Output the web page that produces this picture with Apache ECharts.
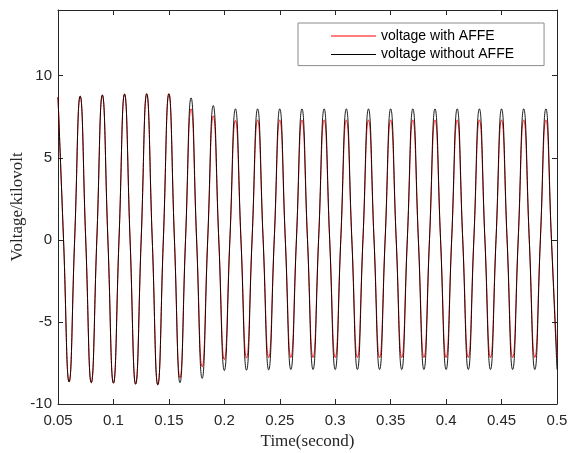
<!DOCTYPE html>
<html>
<head>
<meta charset="utf-8">
<script src="https://cdn.jsdelivr.net/npm/echarts@6/dist/echarts.min.js"></script>
<style>
html,body{margin:0;padding:0;background:#fff;}
#chart{width:570px;height:453px;}
</style>
</head>
<body>
<div id="chart"></div>
<script>
// Time samples (s): peaks, zero crossings and troughs
const time = [0.05,0.055,0.06,0.065,0.07,0.075,0.08,0.085,0.09,0.095,
  0.1,0.105,0.11,0.115,0.12,0.125,0.13,0.135,0.14,0.145,
  0.15,0.155,0.16,0.165,0.17,0.175,0.18,0.185,0.19,0.195,
  0.2,0.205,0.21,0.215,0.22,0.225,0.23,0.235,0.24,0.245,
  0.25,0.255,0.26,0.265,0.27,0.275,0.28,0.285,0.29,0.295,
  0.3,0.305,0.31,0.315,0.32,0.325,0.33,0.335,0.34,0.345,
  0.35,0.355,0.36,0.365,0.37,0.375,0.38,0.385,0.39,0.395,
  0.4,0.405,0.41,0.415,0.42,0.425,0.43,0.435,0.44,0.445,
  0.45,0.455,0.46,0.465,0.47,0.475,0.48,0.485,0.49,0.495,0.5];

// voltage without AFFE (kV)
const voltageWithout = [8.70,0,-8.65,0,8.75,0,-8.70,0,8.82,0,
  -8.73,0,8.88,0,-8.79,0,8.90,0,-8.83,0,
  8.90,0,-8.70,0,8.65,0,-8.44,0,8.18,0,
  -7.96,0,7.98,0,-7.94,0,7.98,0,-7.92,0,
  7.98,0,-7.90,0,7.98,0,-7.90,0,7.98,0,
  -7.90,0,7.98,0,-7.90,0,7.98,0,-7.90,0,
  7.98,0,-7.90,0,7.98,0,-7.90,0,7.98,0,
  -7.90,0,7.98,0,-7.90,0,7.98,0,-7.90,0,
  7.98,0,-7.90,0,7.98,0,-7.90,0,7.98,0,-7.90];

// voltage with AFFE (kV)
const voltageWith = [8.70,0,-8.65,0,8.75,0,-8.70,0,8.82,0,
  -8.73,0,8.88,0,-8.79,0,8.90,0,-8.83,0,
  8.90,0,-8.40,0,7.98,0,-7.74,0,7.55,0,
  -7.30,0,7.27,0,-7.20,0,7.30,0,-7.18,0,
  7.30,0,-7.17,0,7.30,0,-7.17,0,7.30,0,
  -7.17,0,7.30,0,-7.17,0,7.30,0,-7.17,0,
  7.30,0,-7.17,0,7.30,0,-7.17,0,7.30,0,
  -7.17,0,7.30,0,-7.17,0,7.30,0,-7.17,0,
  7.30,0,-7.17,0,7.30,0,-7.17,0,7.30,0,-7.17];

const xTicks = [0.05,0.1,0.15,0.2,0.25,0.3,0.35,0.4,0.45,0.5];
const yTicks = [-10,-5,0,5,10];

const seriesNames = ['voltage with AFFE','voltage without AFFE'];

const pair = arr => time.map((t,i)=>[t,arr[i]]);

const axisColor = '#262626';
const sans = 'Liberation Sans, Arial, sans-serif';
const serif = 'Liberation Serif, Times New Roman, serif';

const baseX = {
  type:'value', min:xTicks[0], max:xTicks[xTicks.length-1], interval:0.05,
  splitLine:{show:false},
  axisLine:{show:true,onZero:false,lineStyle:{color:axisColor,width:1}},
  axisTick:{show:true,inside:true,length:5,lineStyle:{color:axisColor}}
};
const baseY = {
  type:'value', min:-10, max:14, interval:5,
  splitLine:{show:false},
  axisLine:{show:true,onZero:false,lineStyle:{color:axisColor,width:1}},
  axisTick:{show:true,inside:true,length:5,lineStyle:{color:axisColor}}
};

const chart = echarts.init(document.getElementById('chart'), null, {renderer:'canvas'});
chart.setOption({
  animation:false,
  backgroundColor:'#fff',
  grid:{left:58,right:13,top:10,bottom:49,containLabel:false,outerBoundsMode:'none'},
  legend:{
    data:seriesNames.map(n=>({name:n,icon:'rect'})),
    orient:'vertical',
    left:298, top:23,
    itemWidth:45, itemHeight:1, itemGap:4.6,
    padding:[6,30,4,33],
    borderColor:'#8c8c8c', borderWidth:1,
    backgroundColor:'#fff',
    textStyle:{fontFamily:sans,fontSize:14,color:'#000',lineHeight:14}
  },
  xAxis:[
    Object.assign({}, baseX, {
      position:'bottom',
      name:'Time(second)', nameLocation:'middle', nameGap:29, nameMoveOverlap:false,
      nameTextStyle:{fontFamily:serif,fontSize:17,color:axisColor},
      axisLabel:{show:true,color:axisColor,fontFamily:sans,fontSize:15,margin:9,
        formatter:v=>String(+v.toFixed(2))}
    }),
    Object.assign({}, baseX, {position:'top',axisLabel:{show:false}})
  ],
  yAxis:[
    Object.assign({}, baseY, {
      position:'left',
      name:'Voltage/kilovolt', nameLocation:'middle', nameGap:32, nameMoveOverlap:false,
      nameTextStyle:{fontFamily:serif,fontSize:17,color:axisColor},
      axisLabel:{show:true,color:axisColor,fontFamily:sans,fontSize:15,margin:6,
        showMaxLabel:false,
        formatter:v=>(yTicks.indexOf(v)>=0?String(v):'')}
    }),
    Object.assign({}, baseY, {position:'right',axisLabel:{show:false}})
  ],
  series:[
    {
      name:seriesNames[0], type:'line', data:pair(voltageWith),
      smooth:0.5, symbol:'none', showSymbol:false,
      lineStyle:{color:'#ff0000',width:0.9}, itemStyle:{color:'#ff0000'},
      z:2
    },
    {
      name:seriesNames[1], type:'line', data:pair(voltageWithout),
      smooth:0.5, symbol:'none', showSymbol:false,
      lineStyle:{color:'#000000',width:0.9}, itemStyle:{color:'#000000'},
      z:3
    }
  ]
});
</script>
</body>
</html>
